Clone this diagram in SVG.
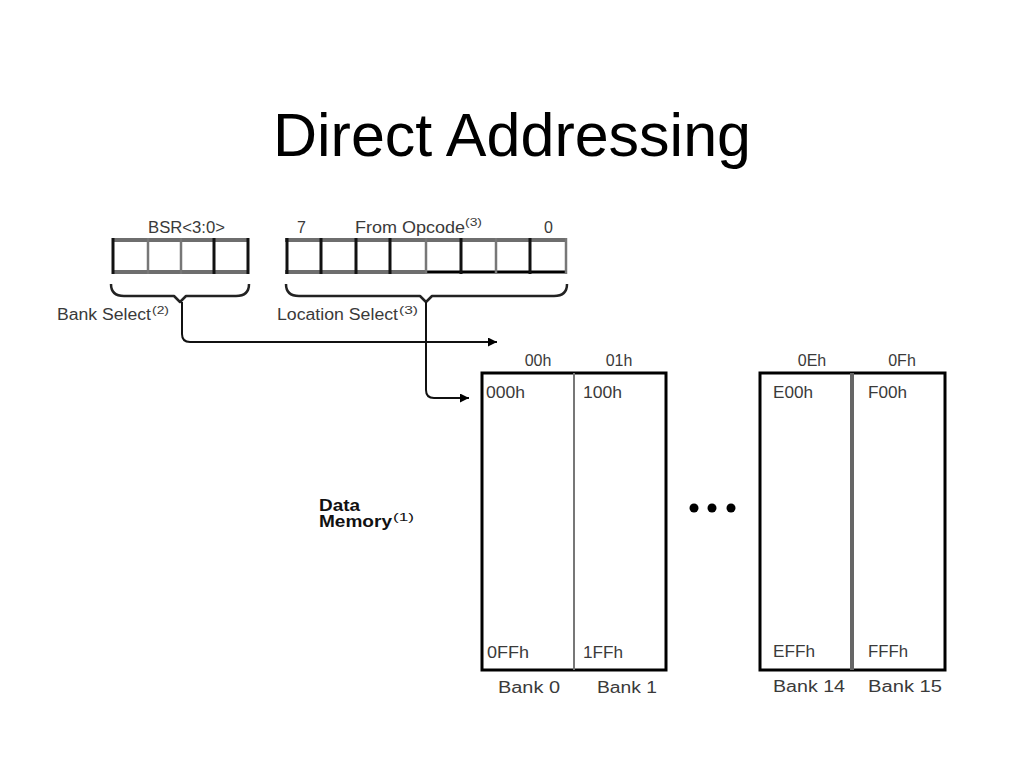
<svg xmlns="http://www.w3.org/2000/svg" width="1024" height="768" viewBox="0 0 1024 768">
<defs>
<style>
.t{font-family:"Liberation Sans",Arial,sans-serif;font-size:16px;fill:#3a3a3a}
.sup{font-family:"Liberation Sans",Arial,sans-serif;font-size:10px;fill:#3a3a3a}
.title{font-family:"Liberation Sans",Arial,sans-serif;font-size:61px;fill:#000}
.hz{stroke:#6e6e6e;stroke-width:4;fill:none}
.vt{stroke:#111;stroke-width:3;fill:none}
.vg{stroke:#777;stroke-width:2.5;fill:none}
.brace{stroke:#222;stroke-width:2.5;fill:none;stroke-linejoin:round}
.conn{stroke:#111;stroke-width:2;fill:none}
.mem{stroke:#000;stroke-width:3;fill:#fff}
</style>
<marker id="arr" viewBox="0 0 10 10" refX="10" refY="5" markerWidth="12" markerHeight="9" markerUnits="userSpaceOnUse" orient="auto">
<path d="M0,0 L10,5 L0,10 z" fill="#000"/>
</marker>
</defs>
<rect width="1024" height="768" fill="#fff"/>
<text class="title" x="512" y="156" text-anchor="middle">Direct Addressing</text>

<g id="bsr">
<text class="t" x="148" y="233" textLength="77" lengthAdjust="spacingAndGlyphs">BSR&lt;3:0&gt;</text>
<line class="hz" x1="112" y1="240" x2="248" y2="240"/>
<line class="hz" x1="112" y1="272" x2="248" y2="272"/>
<line class="vt" x1="113" y1="238" x2="113" y2="274"/>
<line class="vg" x1="148" y1="238" x2="148" y2="274"/>
<line class="vg" x1="181" y1="238" x2="181" y2="274"/>
<line class="vt" x1="214" y1="238" x2="214" y2="274"/>
<line class="vt" x1="248" y1="238" x2="248" y2="274"/>
<path class="brace" d="M111,284 Q111,296 124,296 L174,296 L180,302 L186,296 L236,296 Q249,296 249,284"/>
<text class="t" x="57" y="320" textLength="94" lengthAdjust="spacingAndGlyphs">Bank Select</text>
<text class="sup" x="152" y="314" textLength="17" lengthAdjust="spacingAndGlyphs">(2)</text>
</g>

<g id="opcode">
<text class="t" x="297" y="233">7</text>
<text class="t" x="355" y="233" textLength="110" lengthAdjust="spacingAndGlyphs">From Opcode</text>
<text class="sup" x="465" y="226" textLength="17" lengthAdjust="spacingAndGlyphs">(3)</text>
<text class="t" x="544" y="233">0</text>
<line class="hz" x1="285" y1="240" x2="567" y2="240"/>
<line class="hz" x1="285" y1="272" x2="426" y2="272"/>
<line x1="426" y1="272" x2="567" y2="272" stroke="#000" stroke-width="3"/>
<line class="vt" x1="287" y1="238" x2="287" y2="274"/>
<line class="vt" x1="321" y1="238" x2="321" y2="274"/>
<line class="vt" x1="356" y1="238" x2="356" y2="274"/>
<line class="vt" x1="390" y1="238" x2="390" y2="274"/>
<line class="vg" x1="426" y1="238" x2="426" y2="274"/>
<line class="vt" x1="461" y1="238" x2="461" y2="274"/>
<line class="vg" x1="496" y1="238" x2="496" y2="274"/>
<line class="vt" x1="530" y1="238" x2="530" y2="274"/>
<line class="vg" x1="566" y1="238" x2="566" y2="274"/>
<path class="brace" d="M286,284 Q286,296 299,296 L420,296 L426,302 L432,296 L554,296 Q567,296 567,284"/>
<text class="t" x="277" y="320" textLength="121" lengthAdjust="spacingAndGlyphs">Location Select</text>
<text class="sup" x="399" y="314" textLength="19" lengthAdjust="spacingAndGlyphs">(3)</text>
</g>

<g id="connectors">
<path class="conn" d="M182,302 L182,334 Q182,342 190,342 L497,342" marker-end="url(#arr)"/>
<path class="conn" d="M426,302 L426,390 Q426,398 434,398 L469,398" marker-end="url(#arr)"/>
</g>

<g id="data-memory-label">
<text class="t" x="319" y="511" font-weight="bold" textLength="41" lengthAdjust="spacingAndGlyphs" style="fill:#111">Data</text>
<text class="t" x="319" y="527" font-weight="bold" textLength="73" lengthAdjust="spacingAndGlyphs" style="fill:#111">Memory</text>
<text class="sup" x="393" y="521" textLength="21" lengthAdjust="spacingAndGlyphs" style="fill:#111">(1)</text>
</g>

<g id="banks-0-1">
<text class="t" x="538" y="366" text-anchor="middle">00h</text>
<text class="t" x="619" y="366" text-anchor="middle">01h</text>
<rect class="mem" x="482" y="373" width="184" height="297"/>
<line x1="574" y1="373" x2="574" y2="670" stroke="#777" stroke-width="2"/>
<text class="t" x="486" y="398" textLength="39" lengthAdjust="spacingAndGlyphs">000h</text>
<text class="t" x="583" y="398" textLength="39" lengthAdjust="spacingAndGlyphs">100h</text>
<text class="t" x="487" y="658" textLength="42" lengthAdjust="spacingAndGlyphs">0FFh</text>
<text class="t" x="583" y="658" textLength="40" lengthAdjust="spacingAndGlyphs">1FFh</text>
<text class="t" x="498" y="693" textLength="62" lengthAdjust="spacingAndGlyphs">Bank 0</text>
<text class="t" x="597" y="693" textLength="60" lengthAdjust="spacingAndGlyphs">Bank 1</text>
</g>

<g id="ellipsis">
<circle cx="694" cy="508" r="4.5" fill="#000"/>
<circle cx="712" cy="508" r="4.5" fill="#000"/>
<circle cx="731" cy="508" r="4.5" fill="#000"/>
</g>

<g id="banks-14-15">
<text class="t" x="812" y="366" text-anchor="middle">0Eh</text>
<text class="t" x="902" y="366" text-anchor="middle">0Fh</text>
<rect class="mem" x="760" y="373" width="185" height="297"/>
<line x1="852" y1="373" x2="852" y2="670" stroke="#666" stroke-width="4"/>
<text class="t" x="773" y="398" textLength="40" lengthAdjust="spacingAndGlyphs">E00h</text>
<text class="t" x="868" y="398" textLength="39" lengthAdjust="spacingAndGlyphs">F00h</text>
<text class="t" x="773" y="657" textLength="42" lengthAdjust="spacingAndGlyphs">EFFh</text>
<text class="t" x="868" y="657" textLength="40" lengthAdjust="spacingAndGlyphs">FFFh</text>
<text class="t" x="773" y="692" textLength="72" lengthAdjust="spacingAndGlyphs">Bank 14</text>
<text class="t" x="868" y="692" textLength="74" lengthAdjust="spacingAndGlyphs">Bank 15</text>
</g>
</svg>
